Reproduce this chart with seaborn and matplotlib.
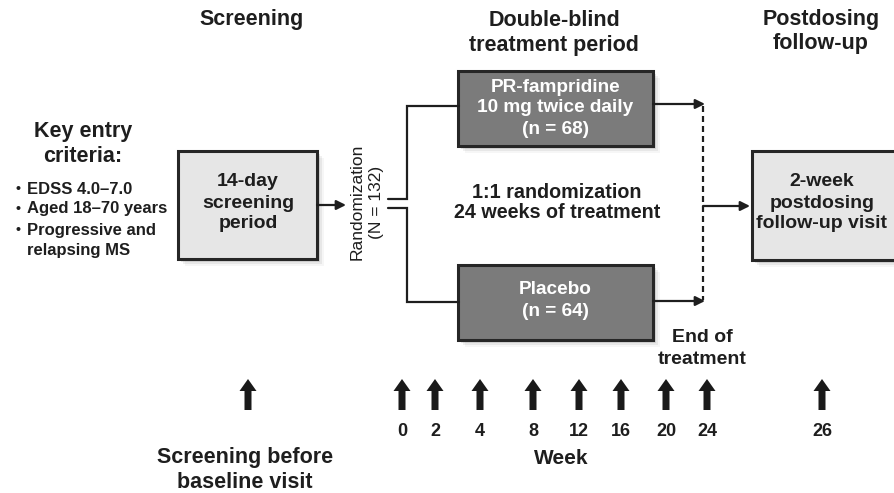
import matplotlib
matplotlib.use("Agg")
import matplotlib.pyplot as plt
import seaborn as sns
from matplotlib.patches import Rectangle, FancyArrow

sns.set_theme(style="white")
plt.rcParams['font.family'] = ['Liberation Sans', 'DejaVu Sans']

# --- content ---
phase_titles = [["Screening"], ["Double-blind", "treatment period"], ["Postdosing", "follow-up"]]
criteria_title = ["Key entry", "criteria:"]
criteria = ["EDSS 4.0\u20137.0", "Aged 18\u201370 years", "Progressive and\nrelapsing MS"]
screening_box = ["14-day", "screening", "period"]
followup_box = ["2-week", "postdosing", "follow-up visit"]
n_total = 132
arms = ["PR-fampridine\n10 mg twice daily", "Placebo"]
arm_n = [68, 64]
design_note = ["1:1 randomization", "24 weeks of treatment"]
weeks = [0, 2, 4, 8, 12, 16, 20, 24, 26]

# --- layout (pixel space) ---
week_x = [402, 435, 480, 533, 579, 621, 666, 707, 822]
screen_x = 248
dark = '#1e1e1e'

fig = plt.figure(figsize=(8.94, 4.93), dpi=100)
ax = fig.add_axes([0, 0, 1, 1])
ax.set_xlim(0, 894)
ax.set_ylim(493, 0)
ax.axis('off')


def lines(x, y0, dy, texts, ha='center', **kw):
    # one text per line so the spacing matches the picture
    for i, t in enumerate(texts):
        ax.text(x, y0 + i * dy, t, ha=ha, va='center', **kw)


def box(x0, y0, x1, y1, fc):
    for k, a in enumerate([0.09, 0.06, 0.035]):
        off = 3 + 2 * k
        ax.add_patch(Rectangle((x0 + off, y0 + off), x1 - x0, y1 - y0,
                               fc='black', alpha=a, lw=0, zorder=1))
    ax.add_patch(Rectangle((x0, y0), x1 - x0, y1 - y0, fc=fc, ec='#262626',
                           lw=2.2, zorder=2))


def arrow(x0, y0, x1, y1):
    ax.annotate("", xy=(x1, y1), xytext=(x0, y0), zorder=3,
                arrowprops=dict(arrowstyle='-|>', lw=1.6, color=dark,
                                mutation_scale=14, shrinkA=0, shrinkB=0))


# phase headers
lines(252, 19, 26, phase_titles[0], fontsize=15.5, fontweight='bold', color=dark)
lines(554, 20, 25, phase_titles[1], fontsize=15.5, fontweight='bold', color=dark)
lines(821, 20, 24, phase_titles[2], fontsize=15.5, fontweight='bold', color=dark)

# entry criteria
lines(83, 131, 26, criteria_title, fontsize=15.5, fontweight='bold', color=dark)
bullet_y = [189, 209, 230]
for y, t in zip(bullet_y, criteria):
    ax.text(18, y, "\u2022", ha='center', va='center', fontsize=10, fontweight='bold', color=dark)
    lines(27, y, 20, t.split('\n'), ha='left', fontsize=12, fontweight='bold', color=dark)

# screening box
box(178, 151, 317, 259, '#e6e6e6')
lines(248, 182, 21, screening_box, fontsize=14, fontweight='bold', color=dark, zorder=4)
arrow(317, 205, 346, 205)

# randomization
ax.text(357, 202, "Randomization", rotation=90, ha='center', va='center', fontsize=12.5, color=dark)
ax.text(377, 202, f"(N = {n_total})", rotation=90, ha='center', va='center', fontsize=12.5, color=dark)
ax.plot([388, 407, 407, 459], [199, 199, 106, 106], color=dark, lw=1.6, solid_joinstyle='miter', zorder=3)
ax.plot([388, 407, 407, 459], [208, 208, 302, 302], color=dark, lw=1.6, solid_joinstyle='miter', zorder=3)

# treatment arms
arm_boxes = [(458, 71, 653, 146), (458, 265, 653, 340)]
arm_text_y = [87, 290]
for (x0, y0, x1, y1), ty, name, n in zip(arm_boxes, arm_text_y, arms, arm_n):
    box(x0, y0, x1, y1, '#7b7b7b')
    parts = name.split('\n') + [f"(n = {n})"]
    lines((x0 + x1) / 2, ty, 21, parts, fontsize=13.7, fontweight='bold', color='white', zorder=4)

lines(557, 192, 21, design_note, fontsize=14.2, fontweight='bold', color=dark)

# end of treatment connectors
arrow(653, 104, 705, 104)
arrow(653, 301, 705, 301)
ax.plot([703, 703], [106, 300], color=dark, lw=1.6, ls=(0, (2.7, 1.8)), zorder=3)
arrow(703, 206, 750, 206)

# follow-up box
box(752, 151, 897, 260, '#e6e6e6')
lines(822, 182, 21, followup_box, fontsize=14, fontweight='bold', color=dark, zorder=4)

lines(702, 338, 22, ["End of", "treatment"], fontsize=14, fontweight='bold', color=dark)

# visit arrows
for x in [screen_x] + week_x:
    ax.add_patch(FancyArrow(x, 410, 0, -31, width=7, head_width=17, head_length=12,
                            length_includes_head=True, fc='#1a1a1a', ec='none', zorder=3))
for x, w in zip(week_x, weeks):
    ax.text(x, 431, str(w), ha='center', va='center', fontsize=13, fontweight='bold', color=dark)

ax.text(561, 458, "Week", ha='center', va='center', fontsize=15, fontweight='bold', color=dark)
lines(245, 458, 25, ["Screening before", "baseline visit"], fontsize=15.5, fontweight='bold', color=dark)

fig.savefig("out.png", dpi=100)
